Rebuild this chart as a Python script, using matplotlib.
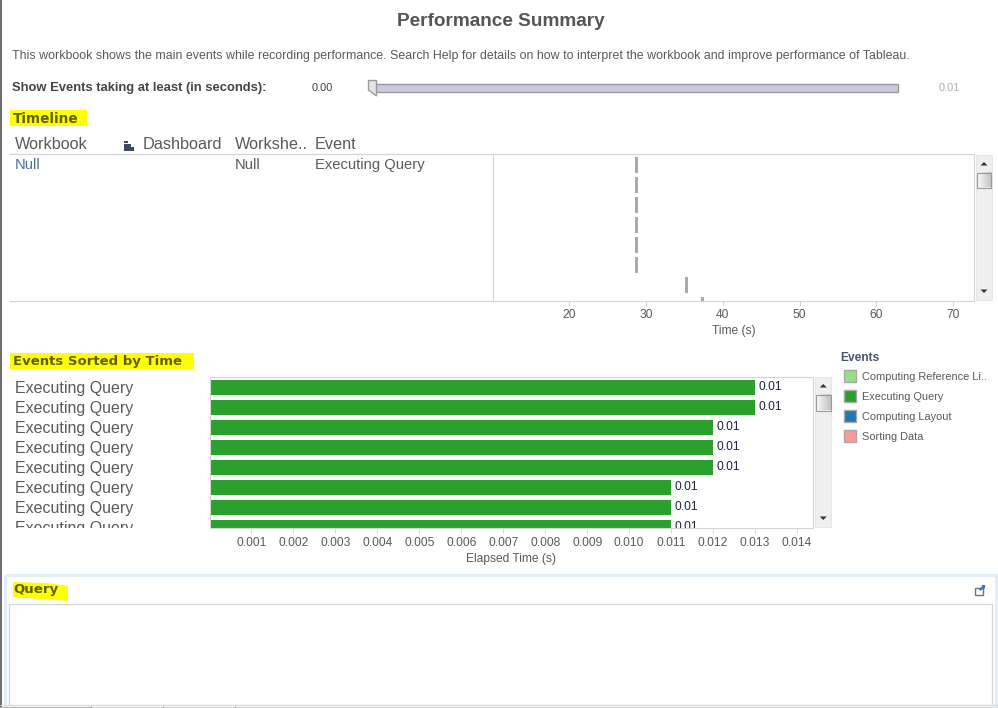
import matplotlib
matplotlib.use('Agg')
import matplotlib.pyplot as plt
import numpy as np
from matplotlib.patches import Rectangle, Polygon
from matplotlib.transforms import Bbox

W, H = 998, 708

# timeline data
timeline_start = [28.6, 28.6, 28.6, 28.6, 28.6, 28.6, 35.1, 37.2]
timeline_dur = [0.32, 0.32, 0.32, 0.32, 0.32, 0.32, 0.32, 0.32]
timeline_ticks = [20, 30, 40, 50, 60, 70]

# events sorted by time
event_names = ['Executing Query'] * 8
event_secs = [0.013, 0.013, 0.012, 0.012, 0.012, 0.011, 0.011, 0.011]
event_labels = ['0.01'] * 8
event_ticks = [0.001, 0.002, 0.003, 0.004, 0.005, 0.006, 0.007, 0.008, 0.009, 0.010, 0.011, 0.012, 0.013, 0.014]

legend_names = ['Computing Reference Li..', 'Executing Query', 'Computing Layout', 'Sorting Data']
legend_colors = ['#98df8a', '#2ca02c', '#1f77b4', '#ff9896']

plt.rcParams['font.family'] = ['Liberation Sans', 'DejaVu Sans']
GREY = '#5a5a5a'
LINE = '#d4d4d4'
GREEN = '#2ca02c'


def px(n):
    return n * 72 / 100


def axes_px(x0, y0, x1, y1):
    return fig.add_axes([x0 / W, 1 - y1 / H, (x1 - x0) / W, (y1 - y0) / H])


fig = plt.figure(figsize=(W / 100, H / 100), dpi=100, facecolor='white')

# page layer, in pixels
bg = fig.add_axes([0, 0, 1, 1])
bg.set_xlim(0, W)
bg.set_ylim(H, 0)
bg.axis('off')


def box(x0, y0, x1, y1, **kw):
    bg.add_patch(Rectangle((x0, y0), x1 - x0, y1 - y0, **kw))


def hline(y, x0, x1, c=LINE, lw=0.9):
    bg.plot([x0, x1], [y, y], color=c, lw=lw, solid_capstyle='butt')


def vline(x, y0, y1, c=LINE, lw=0.9):
    bg.plot([x, x], [y0, y1], color=c, lw=lw, solid_capstyle='butt')


def label(x, y, s, size=12, color=GREY, **kw):
    kw.setdefault('va', 'center')
    bg.text(x, y + 0.8, s, fontsize=px(size), color=color, **kw)


def scrollbar(x0, x1, y0, y1, thumb0, thumb1):
    box(x0, y0, x1, y1, fc='#efefef', ec='#e6e6e6', lw=0.7)
    shade = np.linspace(0.97, 0.76, 16).reshape(1, -1)
    bg.imshow(shade, extent=(x0 + 0.8, x1 - 0.8, thumb1, thumb0), aspect='auto', cmap='gray', vmin=0, vmax=1, zorder=2)
    box(x0 + 0.8, thumb0, x1 - 0.8, thumb1, fc='none', ec='#9a9a9a', lw=0.8, zorder=3)
    mid = (x0 + x1) / 2
    bg.add_patch(Polygon([(mid - 3.5, y0 + 10.5), (mid + 3.5, y0 + 10.5), (mid, y0 + 7)], fc='#333333', ec='none'))
    bg.add_patch(Polygon([(mid - 3.5, y1 - 10.5), (mid + 3.5, y1 - 10.5), (mid, y1 - 7)], fc='#333333', ec='none'))


# page edge
box(0, 0, 1.6, H, fc='#6e6e6e', ec='none')

# header
label(501, 21, 'Performance Summary', size=19, color='#555555', ha='center', fontweight='bold')
label(12, 55.5, 'This workbook shows the main events while recording performance. Search Help for details on '
      'how to interpret the workbook and improve performance of Tableau.', size=12.43)
label(12.5, 87, 'Show Events taking at least (in seconds):', size=13, color='#444444', fontweight='bold')
label(312, 87.5, '0.00', size=11, color='#444444')
label(939, 87.5, '0.01', size=11, color='#b0b0b0')

# slider
box(373, 84, 898, 92, fc='#c9c9e4', ec='#9a9a9a', lw=1)
bg.add_patch(Polygon([(368.5, 80.5), (376.5, 80.5), (376.5, 96), (368.5, 90)], fc='#e4e4e4', ec='#9a9a9a', lw=1))

# yellow section titles
OLIVE = '#5f5f00'
box(10, 110, 87, 126, fc='#ffff00', ec='none')
label(13, 118, 'Timeline', size=13.6, color=OLIVE, fontweight='bold', family=['DejaVu Sans'])
box(10, 353, 194, 369, fc='#ffff00', ec='none')
label(13.5, 361, 'Events Sorted by Time', size=13.3, color=OLIVE, fontweight='bold', family=['DejaVu Sans'])
bg.add_patch(Polygon([(13, 582), (48, 583), (68, 586), (68, 601), (13, 597)], fc='#ffff00', ec='none'))
label(13.5, 589, 'Query', size=13.4, color=OLIVE, fontweight='bold', family=['DejaVu Sans'])

# timeline table
for x, s in [(15, 'Workbook'), (143, 'Dashboard'), (235, 'Workshe..'), (315, 'Event')]:
    label(x, 144, s, size=16.2)
for x1, y0, y1 in [(128.5, 140.5, 143), (131, 144, 146.5), (134, 147, 150.5)]:
    box(124, y0, x1, y1, fc='#3f4a60', ec='none')
label(15, 164, 'Null', size=14.8, color='#4f6f9f')
label(235, 164, 'Null', size=14.8)
label(315, 164, 'Executing Query', size=14.8)
hline(154, 9, 493)
hline(301, 9, 493)

# timeline marks
ax = axes_px(493, 154, 974, 301)
ax.barh(range(len(timeline_start)), timeline_dur, left=timeline_start, height=0.8, color='#aaaaaa')
ax.set_xlim(10.07, 72.7)
ax.set_ylim(6.815, -0.535)
ax.set_yticks([])
ax.set_xticks(timeline_ticks)
ax.tick_params(axis='x', length=3.5, width=0.7, color=LINE, labelcolor=GREY, labelsize=px(12), pad=1.9)
ax.set_xlabel('Time (s)', fontsize=px(12), color=GREY, labelpad=3.5)
for s in ax.spines.values():
    s.set_color(LINE)
    s.set_linewidth(0.8)
scrollbar(976, 992, 155, 300, 172.5, 187.5)

# events bars
ax2 = axes_px(209.5, 377, 812.5, 527.5)
ax2.barh(range(len(event_secs)), event_secs, height=0.75, color=GREEN)
ax2.set_xlim(0, 0.01437)
ax2.set_ylim(7.025, -0.5)
ax2.set_xticks(event_ticks)
ax2.set_xticklabels(['%.3f' % t for t in event_ticks])
ax2.set_yticks(range(len(event_names)))
ax2.set_yticklabels(event_names, ha='left', va='center_baseline')
ax2.tick_params(axis='x', length=3.5, width=0.7, color=LINE, labelcolor=GREY, labelsize=px(12), pad=3.5)
ax2.tick_params(axis='y', length=0, labelcolor=GREY, labelsize=px(16), pad=px(194.5))
clip = Bbox([[0, H - 528], [W, H]])
for t in ax2.get_yticklabels():
    t.set_clip_on(True)
    t.set_clip_box(clip)
for i, v in enumerate(event_secs):
    ax2.annotate(event_labels[i], (v, i), xytext=(2.6, 0), textcoords='offset points',
                 fontsize=px(12), color='#1a2440', va='center', annotation_clip=False, clip_on=True)
ax2.set_xlabel('Elapsed Time (s)', fontsize=px(12), color=GREY, labelpad=2.6)
for s in ax2.spines.values():
    s.set_color(LINE)
    s.set_linewidth(0.8)
scrollbar(815, 831.5, 377, 527, 395, 410.5)

# legend
label(840.5, 357, 'Events', size=12, color='#4a5568', fontweight='bold')
for i, (name, col) in enumerate(zip(legend_names, legend_colors)):
    y = 376 + 20 * i
    box(844, y - 6, 856.5, y + 6, fc=col, ec='#a8a8a8', lw=1)
    label(862, y, name, size=11)

# query panel
box(5.5, 574.5, 996.5, 712, fc='none', ec='#e3eff7', lw=2.2)
box(9, 604, 992.5, 704.5, fc='white', ec=LINE, lw=0.9)
hline(704.8, 0, W, c='#dcdcdc', lw=0.9)
hline(706.8, 0, 92, c='#b4b4b4', lw=0.8)
hline(706.8, 92, W, c='#dcdcdc', lw=0.8)
for x in [91.5, 163.5, 235.5]:
    vline(x, 706, 708, c='#a0a0a0', lw=0.8)

# popout icon
box(975.5, 587.5, 983, 595, fc='white', ec='#6b7280', lw=1)
bg.add_patch(Polygon([(979, 589), (982.5, 586), (981, 585), (985, 585), (985, 589), (984, 588), (980.5, 591)],
                     fc='#3d6fb8', ec='none'))

fig.savefig('out.png', dpi=100, facecolor='white')
